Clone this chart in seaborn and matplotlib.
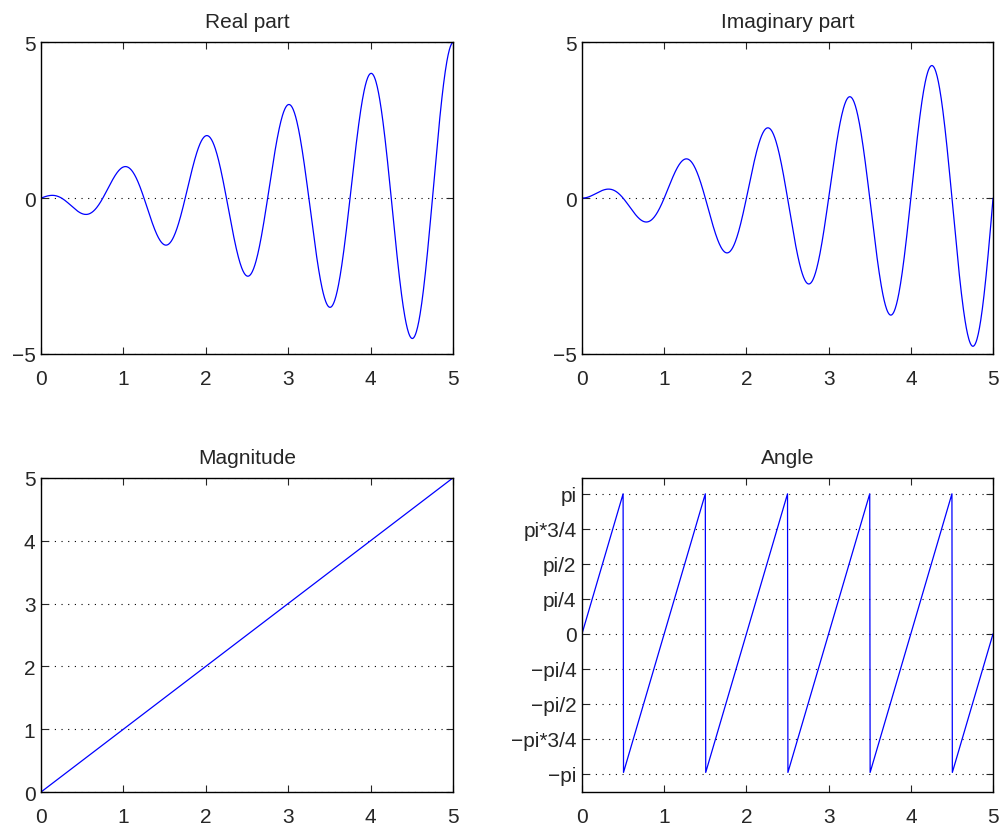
import numpy as np
import pandas as pd
import seaborn as sns
import matplotlib.pyplot as plt

# Signal: z(t) = t * exp(i*2*pi*t), t in [0, 5]
t = np.linspace(0, 5, 1001)
z = t * np.exp(2j * np.pi * t)

df = pd.DataFrame({
    't': t,
    'real': z.real,
    'imag': z.imag,
    'mag': np.abs(z),
    'angle': np.angle(z),
})

titles = ['Real part', 'Imaginary part', 'Magnitude', 'Angle']
columns = ['real', 'imag', 'mag', 'angle']
x_ticks = [0, 1, 2, 3, 4, 5]
angle_ticks = [np.pi, np.pi * 3 / 4, np.pi / 2, np.pi / 4, 0,
               -np.pi / 4, -np.pi / 2, -np.pi * 3 / 4, -np.pi]
angle_labels = ['pi', 'pi*3/4', 'pi/2', 'pi/4', '0',
                '\u2212pi/4', '\u2212pi/2', '\u2212pi*3/4', '\u2212pi']

sns.set_style('ticks')
plt.rcParams['font.family'] = ['Liberation Sans', 'DejaVu Sans']
plt.rcParams['axes.linewidth'] = 1.0

fig = plt.figure(figsize=(10.05, 8.29), dpi=100)
boxes = [
    [0.0408, 0.5718, 0.410, 0.376],
    [0.5791, 0.5718, 0.409, 0.376],
    [0.0408, 0.0434, 0.410, 0.379],
    [0.5791, 0.0434, 0.409, 0.379],
]

for box, title, col in zip(boxes, titles, columns):
    ax = fig.add_axes(box)
    sns.lineplot(data=df, x='t', y=col, ax=ax, color='#0000ff',
                 linewidth=0.9, estimator=None, sort=False)
    ax.set_title(title, fontsize=15, pad=11)
    ax.set_xlabel('')
    ax.set_ylabel('')
    ax.set_xlim(0, 5)
    ax.set_xticks(x_ticks)

    if col in ('real', 'imag'):
        ax.set_ylim(-5, 5)
        ax.set_yticks([-5, 0, 5])
        ax.set_yticklabels(['\u22125', '0', '5'])
    elif col == 'mag':
        ax.set_ylim(0, 5)
        ax.set_yticks([0, 1, 2, 3, 4, 5])
    else:
        ax.set_ylim(-3.55, 3.5)
        ax.set_yticks(angle_ticks)
        ax.set_yticklabels(angle_labels)

    # MATLAB look: dotted horizontal grid, inward ticks on every side
    ax.grid(axis='y', linestyle=(0, (1, 5)), color='black', linewidth=0.8)
    ax.tick_params(direction='in', top=True, right=True, length=5,
                   width=0.8, labelsize=15, pad=4)
    ax.tick_params(axis='x', pad=11)
    for spine in ax.spines.values():
        spine.set_visible(True)
        spine.set_color('black')

fig.savefig('out.png', dpi=100)
